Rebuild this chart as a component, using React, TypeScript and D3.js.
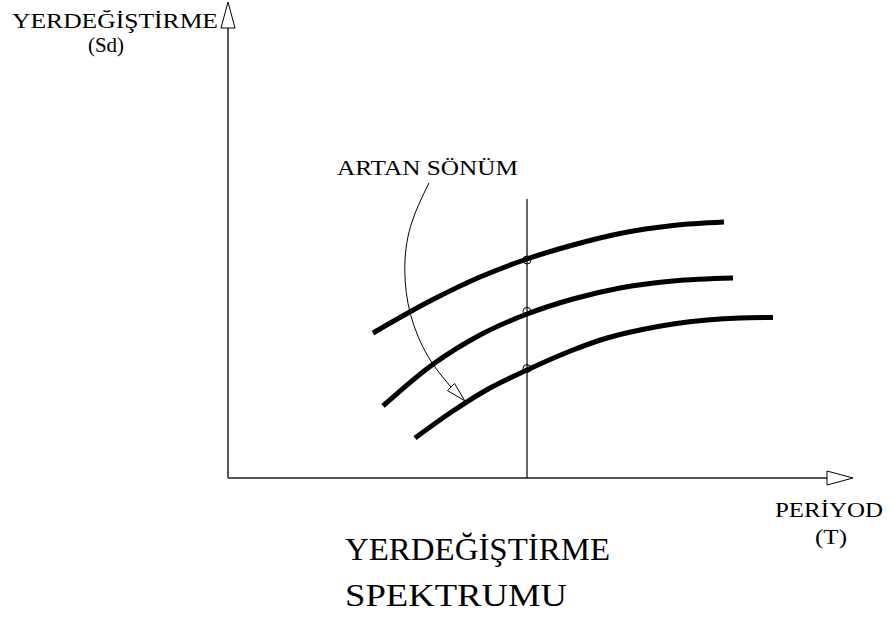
import React from 'react';
import * as d3 from 'd3';

const W = 894;
const H = 617;

// abstract units: period T (x) and displacement Sd (y), both 0..100
const xDomain = [0, 100];
const yDomain = [0, 100];

const periodTop = [23.2, 32.32, 40.32, 47.84, 55.2, 62.72, 71.2, 79.36];
const sdTop = [30.46, 37.18, 42.23, 46.01, 48.95, 51.37, 53.05, 53.78];
const periodMid = [24.8, 32.64, 40.32, 47.84, 55.2, 62.72, 71.2, 80.8];
const sdMid = [15.13, 23.74, 30.04, 34.45, 37.61, 39.92, 41.39, 42.02];
const periodLow = [29.92, 35.52, 41.92, 47.84, 55.2, 60.64, 65.92, 71.2, 76.64, 81.92, 87.2];
const sdLow = [8.4, 13.66, 18.91, 22.69, 26.89, 29.41, 31.09, 32.35, 33.19, 33.61, 33.72];

const markerPeriod = 47.84;
const markerLineTop = 58.6;
const markerSd = [45.8, 35.0, 23.0];

const arcPeriod = [32.16, 29.22, 28.29, 29.22, 31.95, 35.68];
const arcSd = [62.0, 52.92, 43.61, 34.31, 25.65, 19.12];
const arcTip = [37.9, 16.2];

const yAxisLabel = ['YERDEĞİŞTİRME', '(Sd)'];
const xAxisLabel = ['PERİYOD', '(T)'];
const annotation = 'ARTAN SÖNÜM';
const title = ['YERDEĞİŞTİRME', 'SPEKTRUMU'];

const FONT = '"Liberation Serif", "Times New Roman", serif';

export default function App() {
  const x = d3.scaleLinear().domain(xDomain).range([228, 853]);
  const y = d3.scaleLinear().domain(yDomain).range([478, 2]);

  const line = d3
    .line<[number, number]>()
    .x((d) => x(d[0]))
    .y((d) => y(d[1]))
    .curve(d3.curveMonotoneX);

  const arcLine = d3
    .line<[number, number]>()
    .x((d) => x(d[0]))
    .y((d) => y(d[1]))
    .curve(d3.curveNatural);

  const curves = [
    periodTop.map((p, i) => [p, sdTop[i]] as [number, number]),
    periodMid.map((p, i) => [p, sdMid[i]] as [number, number]),
    periodLow.map((p, i) => [p, sdLow[i]] as [number, number]),
  ];

  const arcPts = arcPeriod.map((p, i) => [p, arcSd[i]] as [number, number]);

  // y axis arrowhead
  const yTipX = x(0);
  const yTipY = y(100);
  const head = 26;
  const half = 7;
  const yArrow = [
    [yTipX, yTipY],
    [yTipX - half, yTipY + head],
    [yTipX + half, yTipY + head],
  ];
  const xTipX = x(100);
  const xTipY = y(0);
  const xArrow = [
    [xTipX, xTipY],
    [xTipX - head, xTipY - half],
    [xTipX - head, xTipY + half],
  ];

  // annotation arrowhead
  const last = arcPts[arcPts.length - 1];
  const bx = x(last[0]);
  const by = y(last[1]);
  const tx = x(arcTip[0]);
  const ty = y(arcTip[1]);
  const dx = tx - bx;
  const dy = ty - by;
  const len = Math.hypot(dx, dy);
  const nx = -dy / len;
  const ny = dx / len;
  const ah = 5;
  const annArrow = [
    [tx, ty],
    [bx + nx * ah, by + ny * ah],
    [bx - nx * ah, by - ny * ah],
  ];

  const pts = (a: number[][]) => a.map((p) => p.join(',')).join(' ');

  return (
    <svg
      width={W}
      height={H}
      style={{ position: 'absolute', left: 0, top: 0, background: '#fff' }}
      fontFamily={FONT}
    >
      <rect width={W} height={H} fill="#fff" />
      {/* axes */}
      <line x1={x(0)} y1={y(0)} x2={x(0)} y2={yTipY + head} stroke="#555" strokeWidth={2} />
      <line x1={x(0)} y1={y(0)} x2={xTipX - head} y2={y(0)} stroke="#555" strokeWidth={2} />
      <polygon points={pts(yArrow)} fill="#fff" stroke="#000" strokeWidth={1} />
      <polygon points={pts(xArrow)} fill="#fff" stroke="#000" strokeWidth={1} />

      {/* vertical marker line */}
      <line
        x1={x(markerPeriod)}
        x2={x(markerPeriod)}
        y1={y(markerLineTop)}
        y2={y(0)}
        stroke="#000"
        strokeWidth={1.2}
      />

      {/* spectrum curves */}
      {curves.map((c, i) => (
        <path key={i} d={line(c) || ''} fill="none" stroke="#000" strokeWidth={5} strokeLinecap="butt" />
      ))}

      {/* circles */}
      {markerSd.map((s, i) => (
        <circle key={i} cx={x(markerPeriod)} cy={y(s)} r={4} fill="none" stroke="#000" strokeWidth={1} />
      ))}

      {/* annotation arc */}
      <path d={arcLine(arcPts) || ''} fill="none" stroke="#000" strokeWidth={1} />
      <polygon points={pts(annArrow)} fill="#fff" stroke="#000" strokeWidth={1} />

      {/* texts */}
      <text x={12} y={28} fontSize={22} textLength={206} lengthAdjust="spacingAndGlyphs">
        {yAxisLabel[0]}
      </text>
      <text x={88} y={52} fontSize={22} textLength={36} lengthAdjust="spacingAndGlyphs">
        {yAxisLabel[1]}
      </text>
      <text x={337} y={175} fontSize={22} textLength={181} lengthAdjust="spacingAndGlyphs">
        {annotation}
      </text>
      <text x={775} y={517} fontSize={22} textLength={108} lengthAdjust="spacingAndGlyphs">
        {xAxisLabel[0]}
      </text>
      <text x={815} y={544} fontSize={22} textLength={32} lengthAdjust="spacingAndGlyphs">
        {xAxisLabel[1]}
      </text>
      <text x={345} y={560} fontSize={31} textLength={265} lengthAdjust="spacingAndGlyphs">
        {title[0]}
      </text>
      <text x={345} y={606} fontSize={31} textLength={222} lengthAdjust="spacingAndGlyphs">
        {title[1]}
      </text>
    </svg>
  );
}
